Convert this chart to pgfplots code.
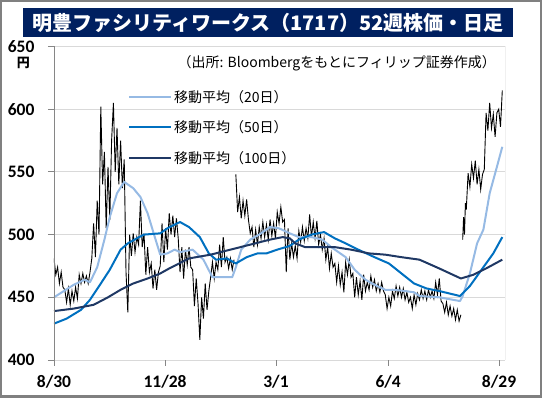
\documentclass[border=0pt]{standalone}
\usepackage{pgfplots}
\pgfplotsset{compat=1.18}
\usepackage{fontspec}
\setmainfont{Carlito}
\newfontfamily\jp{Noto Sans CJK JP}
\definecolor{navy}{RGB}{0,32,96}
\definecolor{maA}{RGB}{150,186,228}
\definecolor{maB}{RGB}{0,112,192}
\definecolor{maC}{RGB}{31,56,100}
\definecolor{gridc}{RGB}{217,217,217}
\definecolor{axisc}{RGB}{134,134,134}
\definecolor{framec}{RGB}{128,128,128}
\begin{document}
\begin{tikzpicture}[x=1pt,y=1pt]
\begin{axis}[
  width=451pt, height=313.5pt, scale only axis,
  xmin=0, xmax=250.5, ymin=400, ymax=650,
  xtick={0,61.7,123.3,185.6,247.2},
  xticklabels={8/30,11/28,3/1,6/4,8/29},
  ytick={400,450,500,550,600,650},
  ymajorgrids, grid style={gridc, line width=0.8pt},
  axis line style={draw=none},
  tick align=outside, major tick length=6pt,
  xtick pos=bottom, ytick pos=left,
  tick style={axisc, line width=0.8pt},
  /pgf/number format/assume math mode=true,
  ticklabel style={font=\bfseries\fontsize{17.5}{20}\selectfont},
  yticklabel style={xshift=-10pt},
  xticklabel style={yshift=-6pt},
  legend style={at={(axis description cs:0.164,0.868)}, anchor=north west, draw=none, fill=none,
    font=\jp\fontsize{14}{16}\selectfont, row sep=13pt, inner sep=0pt},
  legend cell align=left,
  legend image code/.code={\draw[#1] (0pt,0pt) -- (36pt,0pt); \path (0pt,0pt) -- (42pt,0pt);},
]
\coordinate (O) at (axis cs:0,400);
\addplot[black, line width=0.9pt, forget plot] coordinates {
(0,481)(1,468)(2,474)(3,461)(4,470)(5,458)(6,456)(7,446)(8,457)(9,444)(10,455)(11,447)(12,458)(13,449)(14,468)(15,461)(16,469)(17,462)(18,467)(19,461)(20,470)(21,481)(22,509)(23,482)(24,527)(25,500)(26,602)(27,540)(28,566)(29,505)(30,554)(31,512)(32,575)(33,605)(34,550)(35,585)(36,540)(37,575)(38,537)(39,560)(40,470)(41,438)(42,500)(43,483)(44,501)(45,486)(46,498)(47,492)(48,527)(49,490)(50,501)(51,468)(52,490)(53,470)(54,477)(55,457)(56,472)(57,456)(58,470)(59,475)(60,509)(61,478)(62,505)(63,488)(64,517)(65,500)(66,515)(67,498)(68,513)(69,497)(70,470)(71,490)(72,465)(73,488)(74,476)(75,490)(76,474)(77,472)(78,443)(79,465)(80,445)(81,416)(82,450)(83,433)(84,461)(85,440)(86,455)(87,466)(88,478)(89,465)(90,478)(91,472)(92,492)(93,474)(94,498)(95,478)(96,482)(97,473)(98,481)(99,472)(100,480)
};
\addplot[black, line width=0.9pt, forget plot] coordinates {
(101,548)(102,518)(103,530)(104,513)(105,527)(106,515)(107,528)(108,512)(109,501)(110,506)(111,490)(112,504)(113,492)(114,506)(115,497)(116,510)(117,498)(118,508)(119,496)(120,512)(121,499)(122,509)(123,497)(124,518)(125,509)(126,522)(127,510)(128,512)(129,470)(130,505)(131,480)(132,493)(133,482)(134,491)(135,481)(136,503)(137,494)(138,506)(139,495)(140,505)(141,497)(142,516)(143,498)(144,510)(145,497)(146,511)(147,492)(148,500)(149,488)(150,497)(151,480)(152,490)(153,473)(154,485)(155,474)(156,477)(157,462)(158,475)(159,460)(160,470)(161,454)(162,478)(163,468)(164,480)(165,466)(166,469)(167,450)(168,466)(169,452)(170,463)(171,448)(172,468)(173,455)(174,462)(175,456)(176,467)(177,458)(178,464)(179,455)(180,461)(181,454)(182,462)(183,455)(184,452)(185,441)(186,450)(187,443)(188,455)(189,449)(190,459)(191,451)(192,458)(193,450)(194,457)(195,448)(196,454)(197,446)(198,450)(199,441)(200,452)(201,444)(202,453)(203,448)(204,456)(205,449)(206,455)(207,448)(208,456)(209,450)(210,455)(211,449)(212,462)(213,452)(214,465)(215,447)(216,445)(217,438)(218,446)(219,436)(220,443)(221,435)(222,441)(223,432)(224,440)(225,431)(226,436)
};
\addplot[black, line width=0.9pt, forget plot] coordinates {
(227,496)(227.5,514)(228,500)(228.5,525)(229,520)(230,549)(231,538)(232,556)(233,545)(234,559)(235,540)(236,552)(237,536)(238,548)(239,552)(240,597)(241,583)(242,605)(243,585)(244,596)(245,578)(246,597)(247,600)(248,586)(249,615)
};
\addplot[maA, line width=2pt, line join=round] coordinates {
(0,450)(11,460)(17,464)(20,462)(24,474)(28,496)(31,514)(35,533)(39,542)(44,537)(48,530)(52,517)(56,498)(59,484)(63,485)(67,488)(70,486)(77,488)(83,480)(88,466)(94,466)(99,466)(101,474)(104,488)(109,496)(114,500)(120,506)(125,505)(131,501)(136,498)(143,498)(149,496)(154,490)(162,482)(167,472)(173,464)(178,460)(184,456)(189,456)(195,455)(200,454)(203,451)(214,450)(225.5,447)(227,451)(231,469)(235,493)(238.5,504)(242,533)(246,554)(249,570)
};
\addlegendentry{移動平均（20日）}
\addplot[maB, line width=2pt, line join=round] coordinates {
(0,429)(7,433)(15,440)(20,448)(26,461)(31,472)(37,488)(41,493)(46,497)(50,500)(59,501)(63,505)(67,508)(70,510)(75,506)(81,498)(86,485)(90,480)(96,481)(101,477)(107,482)(113,485)(118,485)(124,488)(131,491)(136,496)(143,500)(150,502)(156,497)(162,493)(169,488)(178,482)(186,477)(193,469)(200,461)(207,457)(214,455)(225.5,451)(231,459)(238.5,474)(244,485)(249,498)
};
\addlegendentry{移動平均（50日）}
\addplot[maC, line width=2pt, line join=round] coordinates {
(0,439)(11,441)(22,444)(30,450)(37,456)(44,461)(52,465)(59,469)(64,473)(75,481)(87,484)(98,488)(109,492)(120,496)(127,498)(131,497)(134,493)(139.5,490)(147,490)(156,490)(165,488)(175,485)(184,484)(193,482)(203,480)(214,473)(226,465)(233,468)(240,473)(249,480)
};
\addlegendentry{移動平均（100日）}
\draw[axisc, line width=0.8pt] (axis description cs:0,1) -- (axis description cs:0,0) -- (axis description cs:1,0) -- (axis description cs:1,1);
\node[anchor=east, inner sep=0pt, font=\jp\fontsize{14}{16}\selectfont] at (axis description cs:0.98,0.945) {（出所: Bloombergをもとにフィリップ証券作成）};
\end{axis}
\begin{scope}[shift={(O)}, shift={(-54,-38)}]
\draw[framec, line width=2.5pt] (1.25,1.25) rectangle (540.75,396.75);
\fill[navy] (23.5,360.7) rectangle (513,389.7);
\node[white, font=\jp\bfseries\fontsize{20}{24}\selectfont, inner sep=0pt] at (268,375.5) {明豊ファシリティワークス（1717）52週株価・日足};
\node[inner sep=0pt, font=\jp\bfseries\fontsize{13}{15}\selectfont] at (23.5,335) {円};
\pgfresetboundingbox
\useasboundingbox (0,0) rectangle (542,398);
\end{scope}
\end{tikzpicture}
\end{document}
